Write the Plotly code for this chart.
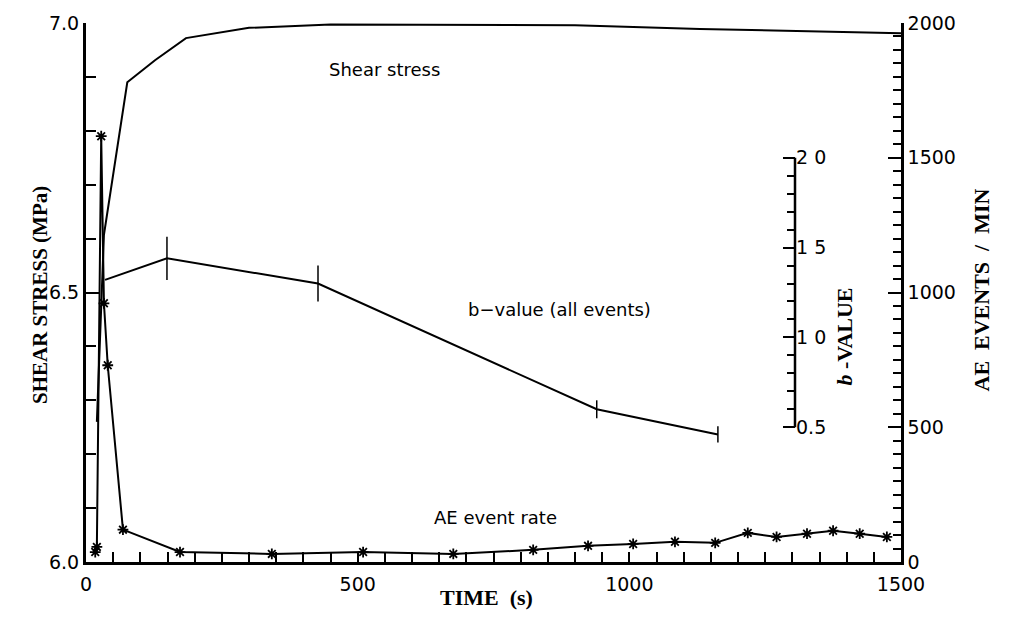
import numpy as np
import plotly.graph_objects as go

# ---- data ----
shear_time = [20, 33, 76, 127, 184, 300, 450, 700, 900, 1130, 1500]
shear_mpa = [6.26, 6.607, 6.89, 6.931, 6.972, 6.991, 6.997, 6.997, 6.996, 6.989, 6.981]

ae_time = [17, 20, 28, 33, 40, 68, 173, 342, 510, 676, 823, 924, 1007, 1084,
           1158, 1218, 1271, 1327, 1375, 1424, 1474]
ae_rate = [37, 56, 1580, 960, 730, 120, 37, 30, 37, 30, 45, 60, 67, 75,
           71, 108, 93, 105, 116, 105, 93]

b_time = [35, 149, 427, 940, 1163]
b_value = [1.32, 1.44, 1.30, 0.60, 0.46]
b_err = [0.0, 0.12, 0.10, 0.05, 0.045]

x_ticks = [0, 500, 1000, 1500]
stress_ticks = [6.0, 6.5, 7.0]
ae_ticks = [0, 500, 1000, 1500, 2000]
b_ticks = [0.5, 1.0, 1.5, 2.0]
b_ticktext = ["0.5", "1 0", "1 5", "2 0"]

SANS = "DejaVu Sans"
SERIF = "Liberation Serif"
BLACK = "black"

fig = go.Figure()

fig.add_trace(go.Scatter(
    x=shear_time, y=shear_mpa, mode="lines",
    line=dict(color=BLACK, width=2), xaxis="x", yaxis="y",
    showlegend=False))

fig.add_trace(go.Scatter(
    x=ae_time, y=ae_rate, mode="lines+markers",
    line=dict(color=BLACK, width=2),
    marker=dict(symbol="asterisk-open", size=9, color=BLACK,
                line=dict(color=BLACK, width=1.8)),
    xaxis="x", yaxis="y2", showlegend=False))

fig.add_trace(go.Scatter(
    x=b_time, y=b_value, mode="lines",
    line=dict(color=BLACK, width=2),
    error_y=dict(type="data", array=b_err, visible=True, color=BLACK,
                 thickness=1.5, width=0),
    xaxis="x", yaxis="y3", showlegend=False))

tickfont = dict(family=SANS, size=19, color=BLACK)

b_pos = (795 - 86) / (901 - 86)

fig.update_layout(
    width=1011, height=635,
    margin=dict(l=86, r=110, t=23, b=73),
    paper_bgcolor="white", plot_bgcolor="white",
    showlegend=False,
    xaxis=dict(
        range=[0, 1500], showline=True, linecolor=BLACK, linewidth=2.5,
        showgrid=False, zeroline=False, ticks="inside", ticklen=10,
        tickwidth=2, tickcolor=BLACK, tickvals=x_ticks, tickfont=tickfont,
        ticklabelstandoff=3,
        minor=dict(dtick=50, ticks="inside", ticklen=10, tickwidth=1.5,
                   tickcolor=BLACK, showgrid=False),
    ),
    yaxis=dict(
        range=[6.0, 7.0], showline=True, linecolor=BLACK, linewidth=3,
        showgrid=False, zeroline=False, ticks="inside", ticklen=14,
        tickwidth=2, tickcolor=BLACK, tickvals=stress_ticks,
        tickformat=".1f", tickfont=tickfont,
        minor=dict(dtick=0.1, ticks="inside", ticklen=10, tickwidth=1.5,
                   tickcolor=BLACK, showgrid=False),
    ),
    yaxis2=dict(
        overlaying="y", side="right", anchor="x",
        range=[0, 2000], showline=True, linecolor=BLACK, linewidth=2.5,
        showgrid=False, zeroline=False, ticks="inside", ticklen=13,
        tickwidth=2, tickcolor=BLACK, tickvals=ae_ticks, tickfont=tickfont,
        minor=dict(dtick=50, ticks="inside", ticklen=8, tickwidth=1.5,
                   tickcolor=BLACK, showgrid=False),
    ),
    yaxis3=dict(
        overlaying="y", side="right", anchor="free", position=b_pos,
        range=[-0.25, 2.75], showline=False,
        showgrid=False, zeroline=False, ticks="inside", ticklen=12,
        tickwidth=2, tickcolor=BLACK, tickvals=b_ticks, ticktext=b_ticktext,
        tickfont=tickfont,
        minor=dict(tickmode="array",
                   tickvals=[round(v, 2) for v in np.arange(0.6, 1.95, 0.1)],
                   ticks="inside", ticklen=8, tickwidth=1.5,
                   tickcolor=BLACK, showgrid=False),
    ),
)

# b-value axis line (only spans its own range)
fig.add_shape(type="line", xref="paper", yref="y3",
              x0=b_pos, x1=b_pos, y0=b_ticks[0], y1=b_ticks[-1],
              line=dict(color=BLACK, width=2.5))

label_font = dict(family=SANS, size=18, color=BLACK)
title_font = dict(family=SERIF, size=22, color=BLACK)

fig.add_annotation(x=550, y=6.913, xref="x", yref="y", text="Shear stress",
                   showarrow=False, font=label_font)
fig.add_annotation(x=872, y=6.468, xref="x", yref="y",
                   text="b\u2212value (all events)",
                   showarrow=False, font=label_font)
fig.add_annotation(x=753, y=6.083, xref="x", yref="y", text="AE event rate",
                   showarrow=False, font=label_font)

fig.add_annotation(x=(26 - 86) / 815, y=(562 - 295) / 539, xref="paper",
                   yref="paper", text="<b>SHEAR STRESS (MPa)</b>",
                   textangle=-90, showarrow=False,
                   font=dict(family=SERIF, size=21, color=BLACK))
fig.add_annotation(x=(995 - 86) / 815, y=(562 - 290) / 539, xref="paper",
                   yref="paper", text="<b>AE  EVENTS  /  MIN</b>",
                   textangle=-90, showarrow=False, font=title_font)
fig.add_annotation(x=(859 - 86) / 815, y=(562 - 337) / 539, xref="paper",
                   yref="paper", text="<b><i>b</i> -VALUE</b>",
                   textangle=-90, showarrow=False, font=title_font)
fig.add_annotation(x=(486 - 86) / 815, y=(562 - 612) / 539, xref="paper",
                   yref="paper", text="<b>TIME  (s)</b>",
                   showarrow=False, font=title_font)

fig.write_html("out.html")
